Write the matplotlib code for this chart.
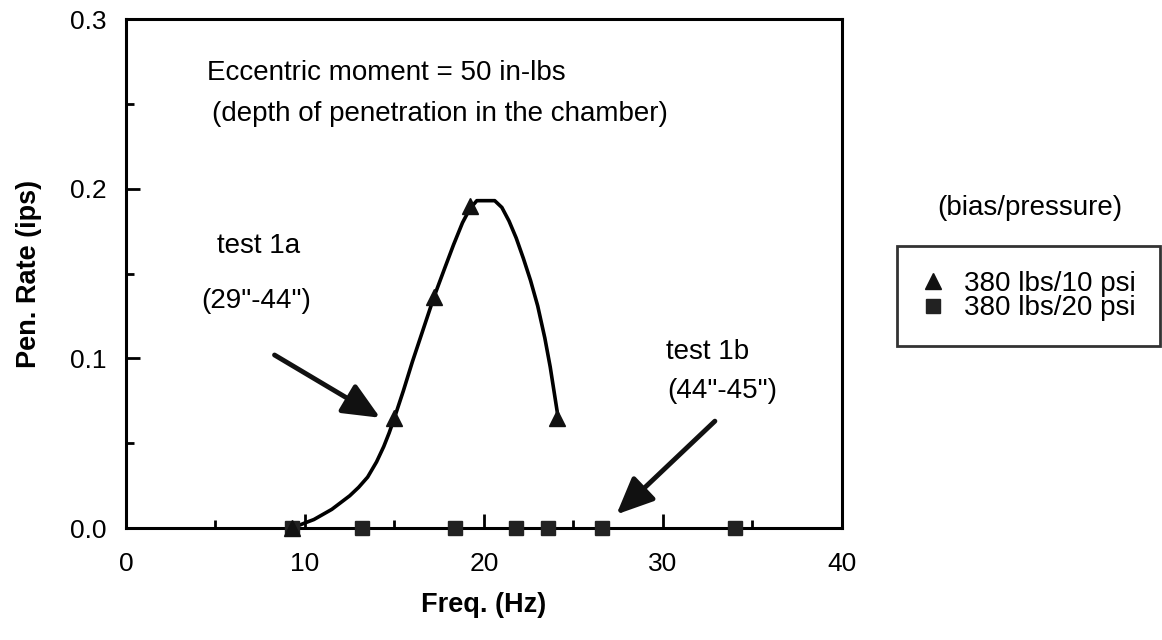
import matplotlib
matplotlib.use("Agg")
import matplotlib.pyplot as plt
from matplotlib.lines import Line2D

plt.rcParams["font.family"] = ["Liberation Sans", "DejaVu Sans"]

# ---- data ----
tri_freq = [9.3, 15.0, 17.2, 19.2, 24.1]          # 380 lbs / 10 psi
tri_rate = [0.0, 0.065, 0.136, 0.190, 0.065]
sq_freq = [9.3, 13.2, 18.4, 21.8, 23.6, 26.6, 34.0]  # 380 lbs / 20 psi
sq_rate = [0.0, 0.0, 0.0, 0.0, 0.0, 0.0, 0.0]

# hand-drawn trend curve through the 10 psi points
curve_freq = [9.3, 10.0, 10.5, 11.0, 11.5, 12.0, 12.5, 13.0, 13.5, 14.0, 14.4, 14.7,
              15.0, 15.5, 16.0, 16.6, 17.2, 17.8, 18.3, 18.8, 19.2, 19.6, 20.1, 20.6,
              21.0, 21.4, 21.8, 22.2, 22.6, 23.0, 23.4, 23.7, 24.1]
curve_rate = [0.0, 0.003, 0.005, 0.008, 0.011, 0.015, 0.019, 0.024, 0.030, 0.039, 0.048, 0.056,
              0.065, 0.081, 0.098, 0.117, 0.136, 0.153, 0.167, 0.180, 0.188, 0.193, 0.193, 0.193,
              0.189, 0.181, 0.171, 0.159, 0.146, 0.131, 0.112, 0.095, 0.068]

x_ticks = [0, 10, 20, 30, 40]
y_ticks = [0.0, 0.1, 0.2, 0.3]

fig = plt.figure(figsize=(11.62, 6.4), dpi=100)
ax = fig.add_axes([0.1084, 0.175, 0.6162, 0.795])

ax.plot(curve_freq, curve_rate, color="black", lw=2.6, zorder=2, solid_joinstyle="round")
ax.plot(sq_freq, sq_rate, "s", color="#222222", ms=10.5, zorder=3, clip_on=False)
ax.plot(tri_freq, tri_rate, "^", color="#111111", ms=11, zorder=3, clip_on=False)

ax.set_xlim(0, 40)
ax.set_ylim(0, 0.3)
ax.set_xticks(x_ticks)
ax.set_xticklabels([f"{t:d}" for t in x_ticks])
ax.set_xticks([5, 15, 25, 35], minor=True)
ax.set_yticks(y_ticks)
ax.set_yticklabels([f"{t:.1f}" for t in y_ticks])
ax.set_yticks([0.05, 0.15, 0.25], minor=True)
ax.tick_params(which="major", direction="in", length=10, width=2, labelsize=19, pad=14)
ax.tick_params(axis="x", which="major", pad=17)
ax.tick_params(which="minor", direction="in", length=6, width=2)
for s in ax.spines.values():
    s.set_linewidth(2.2)

ax.set_xlabel("Freq. (Hz)", fontsize=19.5, fontweight="bold", labelpad=12)
ax.set_ylabel("Pen. Rate (ips)", fontsize=19.5, fontweight="bold", labelpad=20)

fs = 20
ax.text(4.5, 0.268, "Eccentric moment = 50 in-lbs", fontsize=fs, va="center")
ax.text(4.8, 0.244, "(depth of penetration in the chamber)", fontsize=fs, va="center")
ax.text(7.4, 0.166, "test 1a", fontsize=fs, ha="center", va="center")
ax.text(7.3, 0.134, '(29"-44")', fontsize=fs, ha="center", va="center")
ax.text(32.5, 0.104, "test 1b", fontsize=fs, ha="center", va="center")
ax.text(33.3, 0.081, '(44"-45")', fontsize=fs, ha="center", va="center")

arrow = dict(arrowstyle="-|>,head_length=0.9,head_width=0.4", lw=3.5,
             color="#111111", mutation_scale=25, shrinkA=0, shrinkB=0)
ax.annotate("", xy=(14.2, 0.065), xytext=(8.3, 0.102), arrowprops=arrow)
ax.annotate("", xy=(27.4, 0.008), xytext=(32.9, 0.063), arrowprops=arrow)

fig.text(0.886, 0.675, "(bias/pressure)", fontsize=fs, ha="center", va="center")
handles = [
    Line2D([], [], ls="none", marker="^", color="#111111", ms=11, label="380 lbs/10 psi"),
    Line2D([], [], ls="none", marker="s", color="#222222", ms=9.5, label="380 lbs/20 psi"),
]
leg = fig.legend(handles=handles, loc="upper left", bbox_to_anchor=(0.772, 0.616),
                 fontsize=fs, frameon=True, fancybox=False, handlelength=0.8,
                 handletextpad=0.7, borderpad=0.9, labelspacing=-0.05, borderaxespad=0)
leg.get_frame().set_edgecolor("black")
leg.get_frame().set_linewidth(2)

fig.savefig("out.png", dpi=100)
